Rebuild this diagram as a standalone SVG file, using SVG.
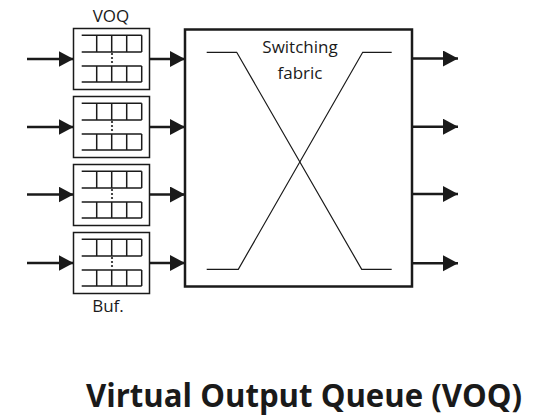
<svg xmlns="http://www.w3.org/2000/svg" xmlns:xlink="http://www.w3.org/1999/xlink" width="534" height="418" viewBox="0 0 534 418">
  <style>
    .lbl { font-family: "Open Sans", "Liberation Sans", sans-serif; font-size: 17px; fill: #1a1a1a; text-anchor: middle; }
    .title { font-family: "Open Sans", "Liberation Sans", sans-serif; font-size: 31.5px; font-weight: bold; fill: #1a1a1a; text-anchor: middle; }
    .qbox { fill: #ffffff; stroke: #1a1a1a; stroke-width: 1.5; }
    .cell { fill: none; stroke: #1a1a1a; stroke-width: 1.5; }
    .fabric { fill: #ffffff; stroke: #1a1a1a; stroke-width: 2.5; }
    .path { fill: none; stroke: #1a1a1a; stroke-width: 1.2; }
    .arrow { fill: none; stroke: #1a1a1a; stroke-width: 2.6; marker-end: url(#head); }
  </style>
  <defs>
    <marker id="head" markerUnits="userSpaceOnUse" markerWidth="16" markerHeight="18" refX="15" refY="8" orient="auto">
      <path d="M0,0 L15,8 L0,16 Z" fill="#1a1a1a"/>
    </marker>
    <!-- queue buffer body: box with two open-ended rows of cells and ellipsis -->
    <g id="voq-body">
      <rect class="qbox" x="73.5" y="0" width="76" height="61"/>
      <path class="cell" d="M81.7,6.7 H141.7 M81.7,23.4 H141.7 M96.7,6.7 V23.4 M111.7,6.7 V23.4 M126.7,6.7 V23.4 M141.7,6.7 V23.4"/>
      <path class="cell" d="M81.7,37.4 H141.7 M81.7,53.4 H141.7 M96.7,37.4 V53.4 M111.7,37.4 V53.4 M126.7,37.4 V53.4 M141.7,37.4 V53.4"/>
      <circle cx="112" cy="25.5" r="1.1" fill="#1a1a1a"/>
      <circle cx="112" cy="29.5" r="1.1" fill="#1a1a1a"/>
      <circle cx="112" cy="33.5" r="1.1" fill="#1a1a1a"/>
    </g>
  </defs>

  <g id="connectors">
    <!-- inputs into buffers -->
    <line class="arrow" x1="27" y1="59" x2="73.5" y2="59"/>
    <line class="arrow" x1="27" y1="127" x2="73.5" y2="127"/>
    <line class="arrow" x1="27" y1="194.5" x2="73.5" y2="194.5"/>
    <line class="arrow" x1="27" y1="263" x2="73.5" y2="263"/>
    <!-- buffers into fabric -->
    <line class="arrow" x1="149.5" y1="59" x2="185" y2="59"/>
    <line class="arrow" x1="149.5" y1="127" x2="185" y2="127"/>
    <line class="arrow" x1="149.5" y1="194.5" x2="185" y2="194.5"/>
    <line class="arrow" x1="149.5" y1="263" x2="185" y2="263"/>
    <!-- fabric outputs -->
    <line class="arrow" x1="412" y1="58.5" x2="458" y2="58.5"/>
    <line class="arrow" x1="412" y1="126.7" x2="458" y2="126.7"/>
    <line class="arrow" x1="412" y1="194" x2="458" y2="194"/>
    <line class="arrow" x1="412" y1="263.3" x2="458" y2="263.3"/>
  </g>

  <g id="voq1"><use xlink:href="#voq-body" href="#voq-body" transform="translate(0,28.5)"/></g>
  <g id="voq2"><use xlink:href="#voq-body" href="#voq-body" transform="translate(0,96.5)"/></g>
  <g id="voq3"><use xlink:href="#voq-body" href="#voq-body" transform="translate(0,164.5)"/></g>
  <g id="voq4"><use xlink:href="#voq-body" href="#voq-body" transform="translate(0,232.5)"/></g>

  <text class="lbl" x="111" y="21.5">VOQ</text>
  <text class="lbl" x="108" y="312">Buf.</text>

  <g id="fabric">
    <rect class="fabric" x="185" y="29.5" width="227" height="257"/>
    <polyline class="path" points="206.7,52.3 236.7,52.3 361.7,269.3 391.7,269.3"/>
    <polyline class="path" points="391.7,52.3 362.7,52.3 238.3,269.3 206.7,269.3"/>
    <text class="lbl" x="300" y="53">Switching</text>
    <text class="lbl" x="300" y="79">fabric</text>
  </g>

  <text class="title" x="304" y="406.5" textLength="436" lengthAdjust="spacingAndGlyphs">Virtual Output Queue (VOQ)</text>
</svg>
